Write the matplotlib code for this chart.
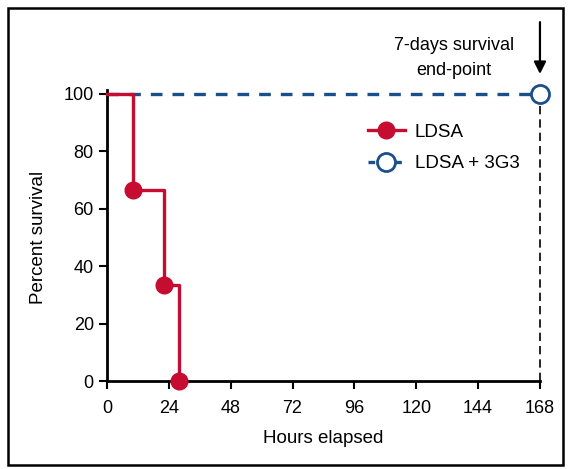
import matplotlib.pyplot as plt
from matplotlib.patches import Rectangle

# Survival data (hours, percent)
ldsa_hours = [0, 10, 22, 28]
ldsa_surv = [100, 66.7, 33.3, 0]
combo_hours = [0, 168]
combo_surv = [100, 100]

endpoint = 168
x_ticks = [0, 24, 48, 72, 96, 120, 144, 168]
y_ticks = [0, 20, 40, 60, 80, 100]

red = "#C60C30"
blue = "#1B4F8A"

plt.rcParams['font.family'] = ['Liberation Sans', 'DejaVu Sans']

fig = plt.figure(figsize=(5.7, 4.69), dpi=100)
ax = fig.add_axes([0.1877, 0.1876, 0.7596, 0.612])

# step lines
ax.step(ldsa_hours, ldsa_surv, where='post', color=red, lw=2.4, zorder=3,
        clip_on=False)
ax.plot(combo_hours, combo_surv, color=blue, lw=2.4, ls=(0, (3.5, 3)),
        zorder=2, clip_on=False)

# event markers
ax.plot(ldsa_hours[1:], ldsa_surv[1:], 'o', color=red, ms=12, zorder=4,
        clip_on=False)
ax.plot([combo_hours[-1]], [combo_surv[-1]], 'o', mfc='white', mec=blue,
        mew=2, ms=13, zorder=5, clip_on=False)

# end-point vertical dashed line
ax.plot([endpoint, endpoint], [0, 100], color='black', lw=1.2,
        ls=(0, (5, 3)), zorder=1, clip_on=False)

# legend proxies
h1, = ax.plot([], [], color=red, lw=2.4, marker='o', ms=12)
h2, = ax.plot([], [], color=blue, lw=2.4, ls=(0, (2, 2)), marker='o',
              mfc='white', mec=blue, mew=2, ms=13)
ax.legend([h1, h2], ['LDSA', 'LDSA + 3G3'], loc='upper left',
          bbox_to_anchor=(0.563, 0.955), frameon=False, fontsize=13.5,
          handlelength=2.0, handletextpad=0.5, labelspacing=0.75)

# annotation and arrow
ax.text(134.5, 112.5, '7-days survival\nend-point', ha='center',
        va='center', fontsize=13, linespacing=1.65)
ax.annotate('', xy=(endpoint, 106), xytext=(endpoint, 126),
            arrowprops=dict(arrowstyle='-|>', color='black', lw=1.6,
                            mutation_scale=18),
            annotation_clip=False)

ax.set_xlim(0, 168)
ax.set_ylim(0, 100)
ax.set_xticks(x_ticks)
ax.set_yticks(y_ticks)
ax.tick_params(labelsize=13, width=1.5, length=6, direction='out')
ax.tick_params(axis='x', pad=8)
for s in ['top', 'right']:
    ax.spines[s].set_visible(False)
for s in ['left', 'bottom']:
    ax.spines[s].set_linewidth(2)
ax.spines['left'].set_bounds(0, 101.5)

ax.set_xlabel('Hours elapsed', fontsize=13.5, labelpad=9)
ax.set_ylabel('Percent survival', fontsize=13.5, labelpad=12)

# outer frame
fig.patches.append(Rectangle((8 / 570, 4 / 469), 555 / 570, 457 / 469,
                             transform=fig.transFigure, fill=False,
                             ec='black', lw=1.8))

fig.savefig('out.png', dpi=100)
